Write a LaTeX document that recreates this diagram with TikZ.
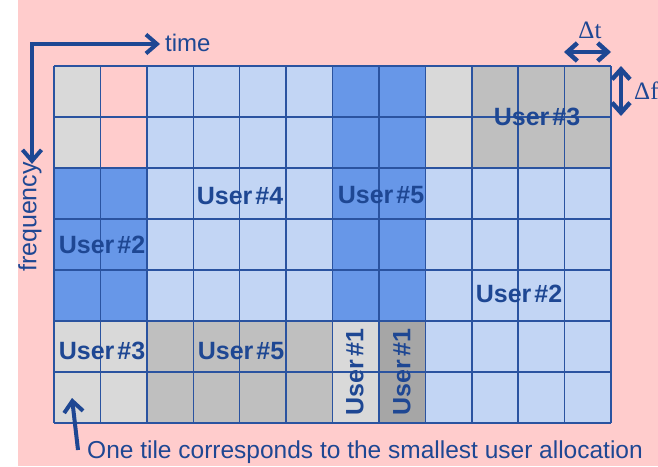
\documentclass[tikz,border=0pt]{standalone}
\usepackage{fontspec}
\setmainfont{Liberation Sans}
\newfontfamily\deltafont{Liberation Serif}
\usetikzlibrary{arrows.meta}
\definecolor{bgpink}{HTML}{FFCCCC}
\definecolor{lgray}{HTML}{D9D9D9}
\definecolor{mgray}{HTML}{BFBFBF}
\definecolor{dgray}{HTML}{A6A6A6}
\definecolor{lblue}{HTML}{C2D5F4}
\definecolor{mblue}{HTML}{6797E8}
\definecolor{inkblue}{HTML}{1E4793}
\definecolor{gridblue}{HTML}{2A53A0}
\newcommand\blk[5]{\fill[#5] ({54+#1*46.4167},{66+#2*51}) rectangle ({54+#3*46.4167},{66+#4*51});}
\newcommand\usr[1]{User\hspace{3pt}\##1}
\tikzset{
  ulabel/.style={font=\bfseries\fontsize{25}{25}\selectfont, text=inkblue, inner sep=0pt},
  plainlabel/.style={font=\fontsize{24}{24}\selectfont, text=inkblue, inner sep=0pt},
  deltalabel/.style={font=\deltafont\fontsize{25}{25}\selectfont, text=inkblue, inner sep=0pt},
  gridline/.style={draw=gridblue, line width=1.5pt},
  axisarrow/.style={draw=inkblue, line width=4pt, -{Straight Barb[length=11pt,width=19pt,line width=4pt]}},
  dblarrow/.style={draw=inkblue, line width=4.5pt, {Straight Barb[length=10pt,width=18pt,line width=4.5pt]}-{Straight Barb[length=10pt,width=18pt,line width=4.5pt]}},
}
\begin{document}
\begin{tikzpicture}[x=1pt,y=-1pt]
\useasboundingbox (0,0) rectangle (658,466);
\fill[white] (0,0) rectangle (658,466);
\fill[bgpink] (18,0) rectangle (658,466);
% cell colours
\blk{0}{0}{1}{2}{lgray}
\blk{2}{0}{6}{5}{lblue}
\blk{6}{0}{8}{5}{mblue}
\blk{8}{0}{9}{2}{lgray}
\blk{9}{0}{12}{2}{mgray}
\blk{0}{2}{2}{5}{mblue}
\blk{8}{2}{12}{7}{lblue}
\blk{0}{5}{2}{7}{lgray}
\blk{2}{5}{6}{7}{mgray}
\blk{6}{5}{7}{7}{lgray}
\blk{7}{5}{8}{7}{dgray}
% grid
\foreach \i in {0,...,12} \draw[gridline] ({54+\i*46.4167},66) -- ({54+\i*46.4167},423);
\foreach \j in {0,...,7} \draw[gridline] (54,{66+\j*51}) -- (611,{66+\j*51});
% user labels
\node[ulabel] (u4) at (240,196) {\usr{4}};
\node[ulabel] (u5a) at (381,195) {\usr{5}};
\node[ulabel] (u3a) at (537,117) {\usr{3}};
\node[ulabel] (u2a) at (102,245) {\usr{2}};
\node[ulabel] (u3b) at (102,351) {\usr{3}};
\node[ulabel] (u5b) at (241,351) {\usr{5}};
\node[ulabel] (u2b) at (519,294) {\usr{2}};
\node[ulabel, rotate=90] (u1a) at (355,372) {\usr{1}};
\node[ulabel, rotate=90] (u1b) at (402,372) {\usr{1}};
% axes
\coordinate (corner) at (32,44);
\node[plainlabel, anchor=west, inner xsep=5pt] (time) at (160,43) {time};
\node[plainlabel, rotate=90, font=\fontsize{25}{25}\selectfont] (freq) at (30,217) {frequency};
\draw[axisarrow] ([xshift=-2pt]corner) -- (corner -| time.west);
\draw[axisarrow] (corner) -- ([yshift=-2pt]corner |- freq.east);
% delta t / delta f
\coordinate (dtl) at (564,52);
\coordinate (dtr) at (611,52);
\node[deltalabel] (dt) at (590,30) {Δt};
\draw[dblarrow] (dtl) -- (dtr);
\coordinate (dfu) at (621,66);
\coordinate (dfd) at (621,116);
\node[deltalabel, anchor=west] (df) at (634,91) {Δf};
\draw[dblarrow] (dfu) -- (dfd);
% note
\node[plainlabel, anchor=west, font=\fontsize{24.5}{24.5}\selectfont] (note) at (87,452) {One tile corresponds to the smallest user allocation};
\coordinate (tile) at (72,398);
\draw[axisarrow] (78,450) -- (tile);
\end{tikzpicture}
\end{document}
